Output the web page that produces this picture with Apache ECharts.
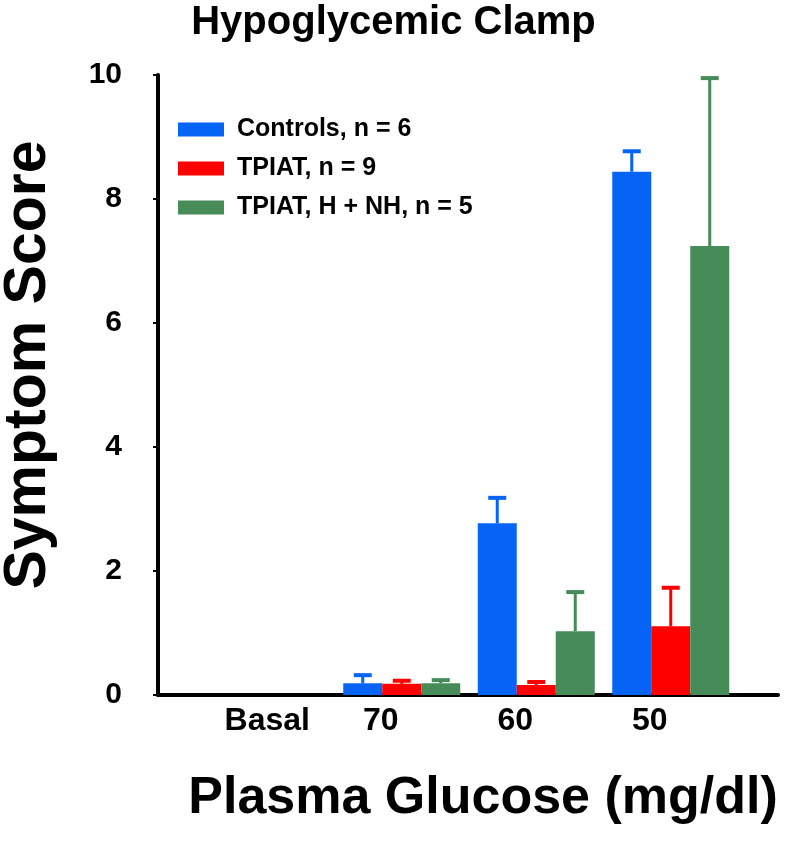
<!DOCTYPE html>
<html>
<head>
<meta charset="utf-8">
<script src="https://cdn.jsdelivr.net/npm/echarts@6/dist/echarts.min.js"></script>
<style>
html,body{margin:0;padding:0;background:#fff;}
#chart{width:787px;height:855px;}
</style>
</head>
<body>
<div id="chart"></div>
<script>
var categories = ['Basal', '70', '60', '50'];
var seriesNames = ['Controls, n = 6', 'TPIAT, n = 9', 'TPIAT, H + NH, n = 5'];
var controlsMean = [0, 0.19, 2.77, 8.44];
var controlsUpper = [0, 0.32, 3.18, 8.77];
var tpiatMean = [0, 0.18, 0.16, 1.11];
var tpiatUpper = [0, 0.23, 0.21, 1.73];
var hnhMean = [0, 0.19, 1.03, 7.24];
var hnhUpper = [0, 0.24, 1.66, 9.95];
var yTicks = [0, 2, 4, 6, 8, 10];

var colors = ['#0564F6', '#FF0000', '#478B58'];
var means = [controlsMean, tpiatMean, hnhMean];
var uppers = [controlsUpper, tpiatUpper, hnhUpper];
var FONT = '"Liberation Sans", Arial, sans-serif';
var BAR_W = 39;

var chart = echarts.init(document.getElementById('chart'), null, {renderer: 'canvas'});

var series = [];
means.forEach(function (m, i) {
  series.push({
    name: seriesNames[i],
    type: 'bar',
    xAxisIndex: 1,
    yAxisIndex: 1,
    barWidth: BAR_W,
    barGap: '0%',
    itemStyle: {color: colors[i]},
    data: m,
    z: 3
  });
});
means.forEach(function (m, i) {
  var errData = m.map(function (v, k) { return [k, v, uppers[i][k]]; });
  series.push({
    type: 'custom',
    xAxisIndex: 1,
    yAxisIndex: 1,
    silent: true,
    z: 2,
    data: errData,
    renderItem: function (params, api) {
      var k = api.value(0), lo = api.value(1), hi = api.value(2);
      if (!(hi > lo)) return null;
      var pLo = api.coord([k, lo]);
      var pHi = api.coord([k, hi]);
      var x = pLo[0] + (i - 1) * BAR_W;
      return {
        type: 'group',
        children: [
          {type: 'line', shape: {x1: x, y1: pLo[1], x2: x, y2: pHi[1]}, style: {stroke: colors[i], lineWidth: 3}},
          {type: 'line', shape: {x1: x - 9, y1: pHi[1], x2: x + 9, y2: pHi[1]}, style: {stroke: colors[i], lineWidth: 4}}
        ]
      };
    }
  });
});

var option = {
  backgroundColor: '#fff',
  animation: false,
  color: colors,
  title: {
    text: 'Hypoglycemic Clamp',
    left: 'center',
    top: -2,
    textStyle: {fontFamily: FONT, fontWeight: 'bold', fontSize: 40, color: '#000'}
  },
  legend: {
    orient: 'vertical',
    left: 173,
    top: 112,
    itemWidth: 46,
    itemHeight: 14,
    itemGap: 14,
    icon: 'rect',
    data: seriesNames,
    textStyle: {fontFamily: FONT, fontWeight: 'bold', fontSize: 25, lineHeight: 25, color: '#000', padding: [0, 0, 0, 8]}
  },
  grid: [
    {left: 158, right: 9, top: 75, bottom: 160, outerBoundsMode: 'none', containLabel: false},
    {left: 200, right: 49, top: 75, bottom: 160, outerBoundsMode: 'none', containLabel: false}
  ],
  xAxis: [
    {
      gridIndex: 0, type: 'value', min: 0, max: 1,
      axisLine: {show: true, onZero: false, lineStyle: {color: '#000', width: 4}},
      axisTick: {show: false}, axisLabel: {show: false}, splitLine: {show: false},
      name: 'Plasma Glucose (mg/dl)',
      nameLocation: 'middle',
      nameGap: 78,
      nameTextStyle: {fontFamily: FONT, fontWeight: 'bold', fontSize: 52, color: '#000', padding: [0, 0, 0, 30]}
    },
    {
      gridIndex: 1, type: 'category', data: categories,
      axisLine: {show: false}, axisTick: {show: false}, splitLine: {show: false},
      axisLabel: {
        margin: 10,
        formatter: function (v) { return v === 'Basal' ? '{b|' + v + '}' : '{a|' + v + '}'; },
        rich: {
          a: {fontFamily: FONT, fontWeight: 'bold', fontSize: 32, color: '#000', padding: [0, 42, 0, 0]},
          b: {fontFamily: FONT, fontWeight: 'bold', fontSize: 32, color: '#000'}
        }
      }
    }
  ],
  yAxis: [
    {
      gridIndex: 0, type: 'value', min: 0, max: 10, interval: 2,
      axisLine: {show: true, lineStyle: {color: '#000', width: 4}},
      axisTick: {show: true, length: 5, lineStyle: {color: '#000', width: 2}},
      splitLine: {show: false},
      axisLabel: {margin: 36, fontFamily: FONT, fontWeight: 'bold', fontSize: 30, color: '#000'},
      name: 'Symptom Score',
      nameLocation: 'middle',
      nameRotate: 90,
      nameGap: 100,
      nameTextStyle: {fontFamily: FONT, fontWeight: 'bold', fontSize: 59, color: '#000', padding: [0, 0, 0, 40]}
    },
    {
      gridIndex: 1, type: 'value', min: 0, max: 10, show: false
    }
  ],
  series: series
};
chart.setOption(option);
</script>
</body>
</html>
